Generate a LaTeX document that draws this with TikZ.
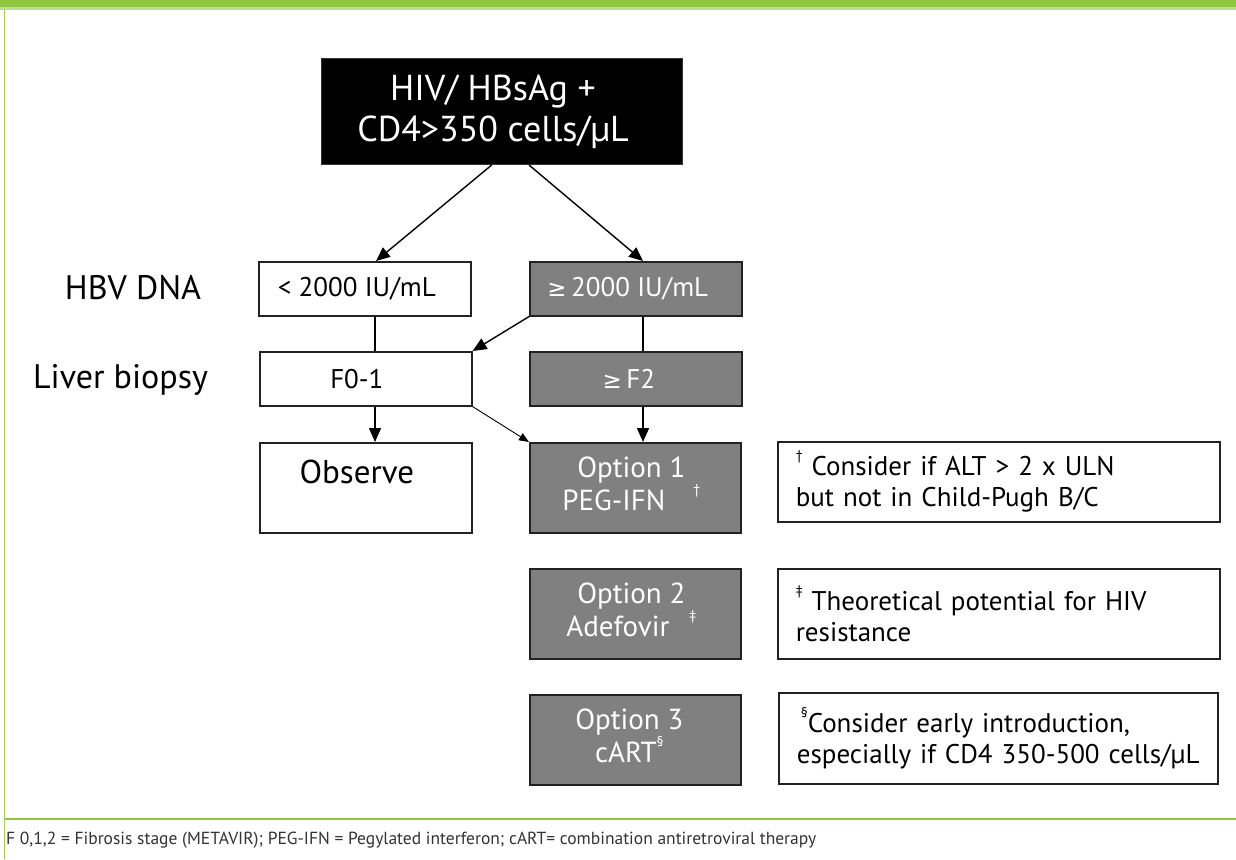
\documentclass[tikz,border=0pt]{standalone}
\usepackage{fontspec}
\setmainfont{PT Sans}
\newfontfamily\symf[Scale=0.85]{DejaVu Sans}
\usetikzlibrary{arrows.meta}
\definecolor{hgreen}{HTML}{8DC63F}
\definecolor{lgreen}{HTML}{BDDC97}
\definecolor{boxgray}{HTML}{808080}
\definecolor{edgegray}{HTML}{222222}
\definecolor{foottext}{HTML}{333333}
\newcommand{\gesym}{{\symf ≥}}
\newcommand{\supmark}[1]{\raisebox{0.55em}{\fontsize{14}{14}\selectfont #1}}
\begin{document}
\begin{tikzpicture}[x=1pt,y=-1pt,
  wbox/.style={draw=edgegray, line width=1.6pt, fill=white, anchor=north west, inner sep=0pt},
  gbox/.style={draw=edgegray, line width=1.6pt, fill=boxgray, anchor=north west, inner sep=0pt},
  wtext/.style={inner sep=0pt, align=center, text=black},
  gtext/.style={inner sep=0pt, align=center, text=white},
  notebox/.style={draw=edgegray, line width=1.6pt, fill=white, anchor=north west, inner xsep=18pt, inner ysep=0pt, align=left, text=black, font=\fontsize{27}{31}\selectfont},
  arr/.style={line width=1.4pt, -{Triangle[length=14pt,width=12pt]}},
  thinarr/.style={line width=0.9pt, -{Triangle[length=10pt,width=8pt]}},
  conn/.style={line width=1.2pt},
  sidelabel/.style={font=\fontsize{34}{38}\selectfont, text=black, inner sep=0pt, anchor=base}
]
\useasboundingbox (0,0) rectangle (1236,859);
% frame
\fill[hgreen] (0,0) rectangle (1236,7.5);
\fill[lgreen] (0,7.5) rectangle (1236,10);
\draw[hgreen!85, line width=1.6pt] (4.5,10) -- (4.5,859);
\draw[hgreen, line width=2pt] (4.5,819) -- (1236,819);

% top box
\node[anchor=north west, draw=black!80, fill=black, line width=1pt, minimum width=361pt, minimum height=106pt, inner sep=0pt] (top) at (321,58) {};
\node[gtext, font=\fontsize{36}{41}\selectfont] (top-t) at ([xshift=-9pt]top.center) {HIV/ HBsAg +\\CD4>350 cells/µL};

% labels
\node[sidelabel] (lhbv) at (133,299) {HBV DNA};
\node[sidelabel] (lliver) at (120.5,388) {Liver biopsy};

% level boxes
\node[wbox, minimum width=212pt, minimum height=54pt] (lo) at (258,261) {};
\node[wtext, font=\fontsize{27}{30}\selectfont] (lo-t) at ([xshift=-8pt]lo.center) {< 2000 IU/mL};
\node[gbox, minimum width=212pt, minimum height=54pt] (hi) at (529,261) {};
\node[gtext, font=\fontsize{27}{30}\selectfont] (hi-t) at ([xshift=-8pt]hi.center) {\gesym\,2000 IU/mL};
\node[wbox, minimum width=212pt, minimum height=54pt] (f01) at (259,351) {};
\node[wtext, font=\fontsize{27}{30}\selectfont] (f01-t) at ([xshift=-9pt]f01.center) {F0-1};
\node[gbox, minimum width=212pt, minimum height=54pt] (f2) at (529,351) {};
\node[gtext, font=\fontsize{27}{30}\selectfont] (f2-t) at ([xshift=-7pt]f2.center) {\gesym\,F2};

% outcome boxes
\node[wbox, minimum width=212pt, minimum height=90pt] (obs) at (259,442) {};
\node[wtext, font=\fontsize{33}{36}\selectfont] (obs-t) at ([xshift=-9pt,yshift=16pt]obs.center) {Observe};
\node[gbox, minimum width=211pt, minimum height=90pt] (opt1) at (529,442) {};
\node[gtext, font=\fontsize{29}{31}\selectfont] (opt1-t) at ([xshift=-4pt,yshift=4pt]opt1.center) {Option 1\\PEG-IFN\hspace{28pt}\supmark{†}};
\node[gbox, minimum width=211pt, minimum height=90pt] (opt2) at (529,568) {};
\node[gtext, font=\fontsize{29}{31}\selectfont] (opt2-t) at ([xshift=-4pt,yshift=4pt]opt2.center) {Option 2\\Adefovir\hspace{20pt}\supmark{‡}};
\node[gbox, minimum width=211pt, minimum height=90pt] (opt3) at (529,694) {};
\node[gtext, font=\fontsize{29}{33}\selectfont] (opt3-t) at ([xshift=-6pt,yshift=4pt]opt3.center) {Option 3\\cART\supmark{§}};

% notes
\node[notebox, text width=406pt, minimum height=80pt] (n1) at (777,441) {\supmark{†} Consider if ALT > 2 x ULN\\but not in Child-Pugh B/C};
\node[notebox, text width=406pt, minimum height=90pt] (n2) at (777,568) {\supmark{‡} Theoretical potential for HIV\\resistance};
\node[notebox, text width=403pt, minimum height=91pt] (n3) at (778,692) {\hspace{4pt}\supmark{§}Consider early introduction,\\especially if CD4 350-500 cells/µL};

% footer
\node[anchor=west, inner sep=0pt, text=foottext, font=\fontsize{17.5}{20}\selectfont] (foot) at (6,840) {F 0,1,2 = Fibrosis stage (METAVIR); PEG-IFN = Pegylated interferon; cART= combination antiretroviral therapy};

% helper x positions
\coordinate (xa) at (491.7,0);
\coordinate (xb) at (376,0);
\coordinate (xc) at (529,0);
\coordinate (xd) at (643,0);
\coordinate (xl) at (375,0);

% connectors
\draw[arr] (top.south -| xa) -- (lo.north -| xb);
\draw[arr] (top.south -| xc) -- (hi.north -| xd);
\draw[conn] (lo.south -| xl) -- (f01.north -| xl);
\draw[conn] (hi.south -| xd) -- (f2.north -| xd);
\draw[arr] (hi.south west) -- (f01.north east);
\draw[arr] (f01.south -| xl) -- (obs.north -| xl);
\draw[thinarr] (f01.south east) -- (opt1.north west);
\draw[arr] (f2.south -| xd) -- (opt1.north -| xd);
\end{tikzpicture}
\end{document}
